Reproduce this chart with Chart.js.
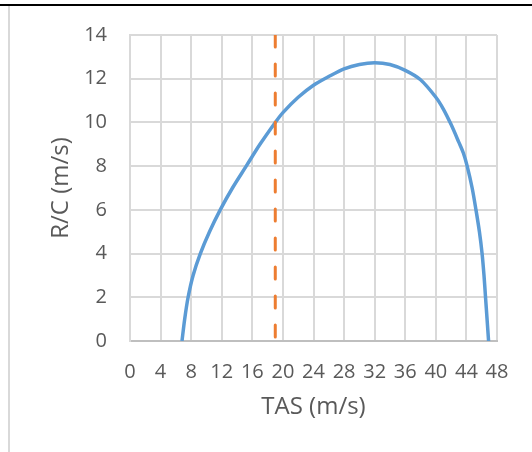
<!DOCTYPE html>
<html>
<head>
  <meta charset="utf-8" />
  <title>R/C vs TAS</title>
  <style>
    html, body { margin: 0; padding: 0; background: #fff; }
    #wrap { position: relative; width: 532px; height: 452px; overflow: hidden; }
    .top-rule { position: absolute; left: 0; top: 4px; width: 532px; height: 2px; background: #000; }
    .left-rule { position: absolute; left: 8px; top: 6px; width: 2px; height: 446px; background: #d9d9d9; }
    canvas { position: absolute; left: 0; top: 0; }
  </style>
</head>
<body>
  <div id="wrap">
    <div class="top-rule"></div>
    <div class="left-rule"></div>
    <canvas id="chart" width="532" height="452"></canvas>
  </div>

  <script src="https://cdn.jsdelivr.net/npm/chart.js"></script>
  <script>
    // climb rate curve
    const tas = [6.8, 7.15, 7.6, 8.25, 9.2, 10.4, 11.8, 13.4, 15.2, 17.0, 19.0, 20.0, 22.0, 24.0, 26.0, 28.0, 30.0, 32.0,
                 34.0, 36.0, 38.0, 40.0, 41.0, 42.0, 43.0, 43.6, 44.1, 44.75, 45.25, 45.7, 46.05, 46.3, 46.5, 46.7, 46.9];
    const rc  = [0, 1, 2, 3, 4, 5, 6, 7, 8, 9, 10, 10.45, 11.15, 11.7, 12.1, 12.45, 12.65, 12.73,
                 12.65, 12.38, 11.95, 11.15, 10.6, 9.9, 9.1, 8.6, 8, 7, 6, 5, 4, 3, 2, 1, 0];

    // vertical marker line
    const markerTas = [19, 19];
    const markerRc  = [14, 0];

    const xTicks = [0, 4, 8, 12, 16, 20, 24, 28, 32, 36, 40, 44, 48];
    const yTicks = [0, 2, 4, 6, 8, 10, 12, 14];

    const textColor = '#595959';
    const gridColor = '#d9d9d9';

    const curve = tas.map((x, i) => ({ x: x, y: rc[i] }));
    const marker = markerTas.map((x, i) => ({ x: x, y: markerRc[i] }));

    new Chart(document.getElementById('chart').getContext('2d'), {
      type: 'scatter',
      data: {
        datasets: [
          {
            data: marker,
            showLine: true,
            borderColor: '#ed7d31',
            borderWidth: 3,
            borderDash: [12, 17],
            borderCapStyle: 'round',
            pointRadius: 0
          },
          {
            data: curve,
            showLine: true,
            borderColor: '#5b9bd5',
            borderWidth: 3.5,
            tension: 0.3,
            pointRadius: 0
          }
        ]
      },
      options: {
        responsive: false,
        animation: false,
        layout: { padding: { top: 35, right: 35, bottom: 0, left: 0 } },
        plugins: { legend: { display: false }, tooltip: { enabled: false } },
        scales: {
          x: {
            type: 'linear',
            min: 0, max: 48,
            afterBuildTicks: s => { s.ticks = xTicks.map(v => ({ value: v })); },
            afterFit: s => { s.height = 111; },
            ticks: { color: textColor, font: { family: 'Open Sans', size: 20 }, padding: 19, maxRotation: 0, autoSkip: false },
            grid: { color: gridColor, lineWidth: 2, drawTicks: false },
            border: { color: '#bfbfbf', width: 2 },
            title: { display: true, text: 'TAS (m/s)', color: textColor, font: { family: 'Open Sans', size: 24 }, padding: { top: 0, bottom: 30 } }
          },
          y: {
            type: 'linear',
            min: 0, max: 14,
            afterBuildTicks: s => { s.ticks = yTicks.map(v => ({ value: v })); },
            afterFit: s => { s.width = 130; },
            ticks: { color: textColor, font: { family: 'Open Sans', size: 20 }, padding: 23 },
            grid: { color: gridColor, lineWidth: 2, drawTicks: false },
            border: { color: gridColor, width: 2 },
            title: { display: true, text: 'R/C (m/s)', color: textColor, font: { family: 'Open Sans', size: 24 }, padding: { top: 47, bottom: 0 } }
          }
        }
      }
    });
  </script>
</body>
</html>
